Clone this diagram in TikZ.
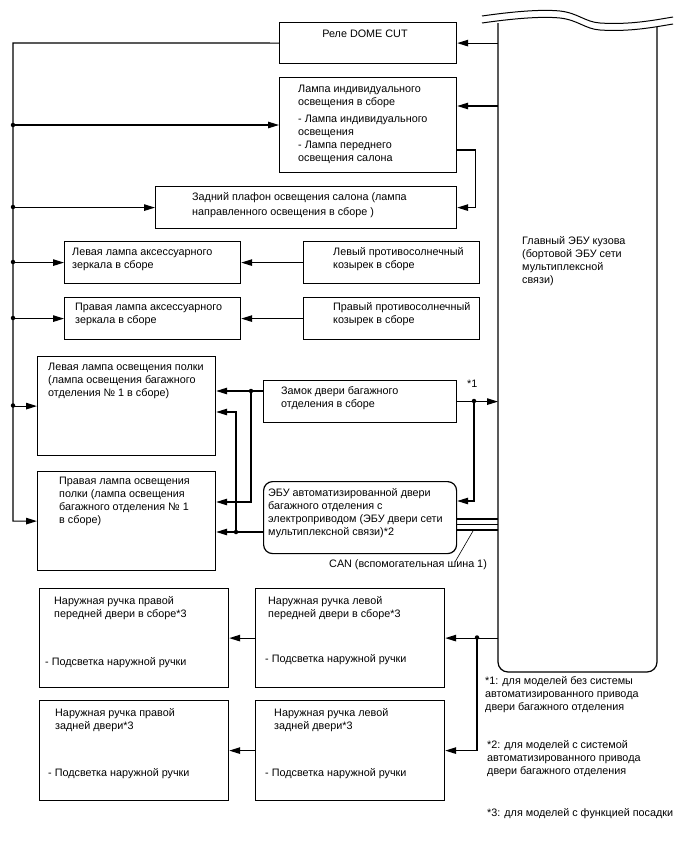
\documentclass[tikz,border=0pt]{standalone}
\usepackage{fontspec}
\setmainfont{Liberation Sans}
\usetikzlibrary{arrows.meta,positioning}

\begin{document}
\begin{tikzpicture}[x=1pt,y=-1pt,>={Triangle[length=11pt,width=6.5pt]},
    blk/.style={draw,line width=1.2pt,anchor=north west,inner sep=0pt},
    lbl/.style={anchor=north west,yshift=9.1pt,align=left,inner sep=0pt,
        font=\fontsize{10.8}{13}\selectfont,execute at begin node=\strut},
    wire/.style={line width=1.2pt},
    jn/.style={circle,fill,inner sep=0pt,minimum size=4.5pt}]
    \useasboundingbox (0,0) rectangle (688,852);

    % main body ECU, cut at the top
    \node[inner sep=0pt,anchor=north west,minimum width=159pt,minimum height=650pt] (ecu) at (498,22) {};
    \draw[wire,rounded corners=10pt] (498,23) -- (498,672) -- (657,672) -- (657,27);
    \draw[line width=1pt] (482,16) .. controls (510,12) and (540,9) .. (560,11) .. controls (578,13) and (585,22) .. (600,23) .. controls (630,25) and (655,20) .. (673,17);
    \draw[line width=1pt,yshift=-7pt] (482,16) .. controls (510,12) and (540,9) .. (560,11) .. controls (578,13) and (585,22) .. (600,23) .. controls (630,25) and (655,20) .. (673,17);
    \node[lbl] (ecutxt) at (522,245) {Главный ЭБУ кузова\\(бортовой ЭБУ сети\\мультиплексной\\связи)};

    % boxes
    \node[blk,minimum width=177pt,minimum height=41pt] (relay) at (279,22) {};
    \node[blk,minimum width=177pt,minimum height=95pt] (indiv) at (279,77) {};
    \node[blk,minimum width=301pt,minimum height=42pt] (rear) at (155,186) {};
    \node[blk,minimum width=176pt,minimum height=42pt] (lmir) at (64,241) {};
    \node[blk,minimum width=176pt,minimum height=42pt] (lvis) at (303,241) {};
    \node[blk,minimum width=176pt,minimum height=42pt] (rmir) at (64,297) {};
    \node[blk,minimum width=176pt,minimum height=42pt] (rvis) at (303,297) {};
    \node[blk,minimum width=178pt,minimum height=99pt] (lshelf) at (37,356) {};
    \node[blk,minimum width=178pt,minimum height=99pt] (rshelf) at (37,471) {};
    \node[blk,minimum width=193pt,minimum height=42pt] (lock) at (263,380) {};
    \node[blk,rounded corners=9pt,minimum width=193pt,minimum height=72pt] (pbd) at (263,481) {};
    \node[blk,minimum width=189pt,minimum height=99pt] (rfh) at (39,588) {};
    \node[blk,minimum width=189pt,minimum height=99pt] (lfh) at (255,588) {};
    \node[blk,minimum width=189pt,minimum height=100pt] (rrh) at (39,700) {};
    \node[blk,minimum width=189pt,minimum height=100pt] (lrh) at (255,700) {};

    % box texts (placed at the baseline of their first line)
    \node[lbl,anchor=north] (relaytxt) at (365,37) {Реле DOME CUT};
    \node[lbl] (indivtxt) at (298,94) {Лампа индивидуального\\освещения в сборе\\[4pt]- Лампа индивидуального\\освещения\\- Лампа переднего\\освещения салона};
    \node[lbl] (reartxt) at (192,201) {Задний плафон освещения салона (лампа\\[2pt]направленного освещения в сборе )};
    \node[lbl] (lmirtxt) at (72,257) {Левая лампа аксессуарного\\зеркала в сборе};
    \node[lbl] (lvistxt) at (333,256) {Левый противосолнечный\\козырек в сборе};
    \node[lbl] (rmirtxt) at (75,312) {Правая лампа аксессуарного\\зеркала в сборе};
    \node[lbl] (rvistxt) at (333,311) {Правый противосолнечный\\козырек в сборе};
    \node[lbl] (lshelftxt) at (48,372) {Левая лампа освещения полки\\(лампа освещения багажного\\отделения № 1 в сборе)};
    \node[lbl] (rshelftxt) at (59,486) {Правая лампа освещения\\полки (лампа освещения\\багажного отделения № 1\\в сборе)};
    \node[lbl] (locktxt) at (281,395) {Замок двери багажного\\отделения в сборе};
    \node[lbl] (pbdtxt) at (268,497) {ЭБУ автоматизированной двери\\багажного отделения с\\электроприводом (ЭБУ двери сети\\мультиплексной связи)*2};
    \node[lbl] (rfhtxt) at (54,605) {Наружная ручка правой\\передней двери в сборе*3};
    \node[lbl] (rfhlamp) at (45,665) {- Подсветка наружной ручки};
    \node[lbl] (lfhtxt) at (268,605) {Наружная ручка левой\\передней двери в сборе*3};
    \node[lbl] (lfhlamp) at (265,662) {- Подсветка наружной ручки};
    \node[lbl] (rrhtxt) at (55,717) {Наружная ручка правой\\задней двери*3};
    \node[lbl] (rrhlamp) at (48,776) {- Подсветка наружной ручки};
    \node[lbl] (lrhtxt) at (274,717) {Наружная ручка левой\\задней двери*3};
    \node[lbl] (lrhlamp) at (265,776) {- Подсветка наружной ручки};

    % notes
    \node[lbl] (mark1) at (467,387) {*1};
    \node[lbl] (cantxt) at (329,567) {CAN (вспомогательная шина 1)};
    \node[lbl] (note1) at (485,685) {*1: для моделей без системы\\автоматизированного привода\\двери багажного отделения};
    \node[lbl] (note2) at (487,749) {*2: для моделей с системой\\автоматизированного привода\\двери багажного отделения};
    \node[lbl] (note3) at (487,816) {*3: для моделей с функцией посадки};

    % junctions
    \coordinate (bus) at (13,43);
    \coordinate (jlock) at (251,391);
    \coordinate (jpbd) at (236,532);
    \coordinate (jone) at (474,401);
    \coordinate (jdoor) at (477,637.5);
    \foreach \y in {125,207,262,318,405.5} {
        \node[jn] at (13,\y) {};
    }
    \node[jn] at (jlock) {};
    \node[jn] at (jpbd) {};
    \node[jn] at (jone) {};
    \node[jn] at (jdoor) {};

    % left bus
    \draw[wire,->] (relay.west) -- (bus) -- (bus |- rshelf.west) -- (rshelf.west);
    \draw[wire,->] (bus |- 0,125) -- (indiv.west |- 0,125);
    \draw[wire,->] (bus |- rear.west) -- (rear.west);
    \draw[wire,->] (bus |- lmir.west) -- (lmir.west);
    \draw[wire,->] (bus |- rmir.west) -- (rmir.west);
    \draw[wire,->] (bus |- lshelf.west) -- (lshelf.west);

    % from body ECU
    \draw[wire,->] (ecu.west |- relay.east) -- (relay.east);
    \draw[wire,->] (ecu.west |- 0,106) -- (indiv.east |- 0,106);
    \draw[wire,->] (indiv.east |- 0,150) -- ++(18,0) |- (rear.east);
    \draw[wire,->] (lvis.west) -- (lmir.east);
    \draw[wire,->] (rvis.west) -- (rmir.east);

    % luggage
    \draw[wire,->] (lock.west |- jlock) -- (lshelf.east |- jlock);
    \draw[wire,->] (jlock) -- (jlock |- 0,502) -- (rshelf.east |- 0,502);
    \draw[wire,->] (pbd.west |- jpbd) -- (rshelf.east |- jpbd);
    \draw[wire,->] (jpbd) -- (jpbd |- 0,412) -- (lshelf.east |- 0,412);
    \draw[wire,->] (lock.east) -- (ecu.west |- lock.east);
    \draw[wire,->] (jone) -- (jone |- 0,501) -- (pbd.east |- 0,501);
    \foreach \y in {519,524.5,530} {
        \draw[line width=1.8pt] (pbd.east |- 0,\y) -- (ecu.west |- 0,\y);
    }
    \draw[line width=0.6pt] (473,531) -- (455,562);

    % door handles
    \draw[wire,->] (ecu.west |- lfh.east) -- (lfh.east);
    \draw[wire,->] (jdoor) |- (lrh.east);
    \draw[wire,->] (lfh.west) -- (rfh.east);
    \draw[wire,->] (lrh.west) -- (rrh.east);
\end{tikzpicture}
\end{document}
